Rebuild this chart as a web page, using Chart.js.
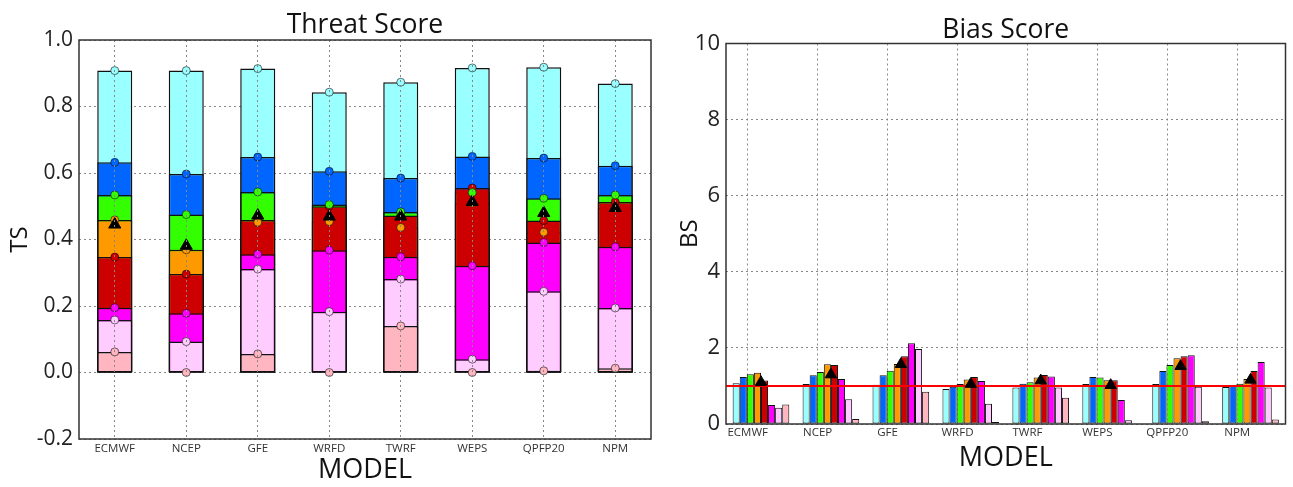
<!DOCTYPE html>
<html>
<head>
<meta charset="utf-8">
<script src="https://cdn.jsdelivr.net/npm/chart.js@4.4.1/dist/chart.umd.min.js"></script>
<style>
    body { margin: 0; background: #fff; }
    .box { position: absolute; top: 0; }
</style>
</head>
<body>
<div class="box" style="left:0"><canvas id="ts" width="660" height="487"></canvas></div>
<div class="box" style="left:660px"><canvas id="bs" width="633" height="487"></canvas></div>
<script>
const MODELS = ['ECMWF', 'NCEP', 'GFE', 'WRFD', 'TWRF', 'WEPS', 'QPFP20', 'NPM']
const THRESHOLDS = ['th1', 'th2', 'th3', 'th4', 'th5', 'th6', 'th7', 'th8']
const COLORS = ['#99ffff', '#0066ff', '#33ff00', '#ff9900', '#cc0000', '#ff00ff', '#ffccff', '#ffb6c1']

// threat score, one array per threshold (models in MODELS order)
const TS_1 = [0.908, 0.908, 0.914, 0.843, 0.873, 0.916, 0.918, 0.869]
const TS_2 = [0.632, 0.597, 0.648, 0.605, 0.585, 0.650, 0.645, 0.622]
const TS_3 = [0.534, 0.475, 0.543, 0.505, 0.483, 0.541, 0.524, 0.534]
const TS_4 = [0.459, 0.369, 0.452, 0.454, 0.436, 0.510, 0.422, 0.495]
const TS_5 = [0.347, 0.296, 0.459, 0.500, 0.472, 0.555, 0.457, 0.513]
const TS_6 = [0.195, 0.178, 0.356, 0.368, 0.348, 0.321, 0.391, 0.378]
const TS_7 = [0.158, 0.093, 0.311, 0.183, 0.281, 0.040, 0.244, 0.194]
const TS_8 = [0.062, 0.000, 0.056, 0.000, 0.140, 0.000, 0.005, 0.013]
const TS_ALL = [0.445, 0.381, 0.472, 0.469, 0.469, 0.513, 0.480, 0.495]
const TS_TICKS = { min: -0.2, max: 1.0, step: 0.2 }

// bias score, one array per threshold
const BS_1 = [1.07, 1.05, 1.03, 0.92, 0.96, 1.05, 1.05, 0.97]
const BS_2 = [1.235, 1.28, 1.28, 0.98, 1.06, 1.235, 1.39, 1.00]
const BS_3 = [1.305, 1.365, 1.40, 1.05, 1.095, 1.22, 1.55, 1.06]
const BS_4 = [1.35, 1.57, 1.576, 1.17, 1.22, 1.15, 1.73, 1.18]
const BS_5 = [1.14, 1.55, 1.78, 1.235, 1.29, 1.15, 1.78, 1.39]
const BS_6 = [0.50, 1.18, 2.12, 1.13, 1.25, 0.63, 1.81, 1.63]
const BS_7 = [0.43, 0.65, 1.97, 0.53, 0.96, 0.10, 0.98, 0.96]
const BS_8 = [0.51, 0.13, 0.85, 0.05, 0.69, 0.00, 0.07, 0.12]
const BS_ALL = [1.10, 1.30, 1.57, 1.05, 1.14, 1.02, 1.52, 1.16]
const BS_TICKS = { min: 0, max: 10, step: 2 }
const BS_REF = 1

const FONT = "'Open Sans', 'DejaVu Sans', sans-serif"
// model ticks on the bias chart sit a bit left of the bar groups
const TICK_SHIFT = 0.19

const frame = {
    id: 'frame',
    afterDraw(chart) {
        const { ctx, chartArea: a } = chart
        ctx.save()
        ctx.strokeStyle = '#333'
        ctx.lineWidth = 1.5
        ctx.strokeRect(a.left, a.top, a.right - a.left, a.bottom - a.top)
        ctx.restore()
    }
}

const refLine = {
    id: 'refLine',
    beforeDatasetDraw(chart, args) {
        if (args.meta.type !== 'line') return
        const { ctx, chartArea: a } = chart
        const y = chart.scales.y.getPixelForValue(BS_REF)
        ctx.save()
        ctx.strokeStyle = '#ff0000'
        ctx.lineWidth = 2
        ctx.beginPath()
        ctx.moveTo(a.left, y)
        ctx.lineTo(a.right, y)
        ctx.stroke()
        ctx.restore()
    }
}

const gridOpts = { color: '#888', lineWidth: 1, drawTicks: false }
const borderOpts = { display: false, dash: [2, 3] }
const titleFont = { family: FONT, size: 26.5, weight: 'normal', lineHeight: 1 }

// ---- Threat Score ----
const tsSeries = [TS_1, TS_2, TS_3, TS_4, TS_5, TS_6, TS_7, TS_8]
const tsBars = tsSeries.map((vals, i) => ({
    type: 'bar',
    label: THRESHOLDS[i],
    data: vals,
    backgroundColor: COLORS[i],
    borderColor: '#111',
    borderWidth: 1.5,
    borderSkipped: false,
    grouped: false,
    barPercentage: 0.49,
    categoryPercentage: 1,
    order: 20 - i,
}))
const tsDots = tsSeries.map((vals, i) => ({
    type: 'line',
    label: THRESHOLDS[i] + ' pt',
    data: vals,
    showLine: false,
    pointRadius: 4,
    pointBackgroundColor: COLORS[i],
    pointBorderColor: 'rgba(0,0,0,0.55)',
    pointBorderWidth: 1,
    order: 5,
}))

new Chart(document.getElementById('ts'), {
    data: {
        labels: MODELS,
        datasets: [
            ...tsBars,
            ...tsDots,
            {
                type: 'line',
                label: 'all',
                data: TS_ALL,
                showLine: false,
                pointStyle: 'triangle',
                pointRadius: 7,
                pointBackgroundColor: '#000',
                pointBorderColor: '#000',
                order: 0,
            }
        ]
    },
    options: {
        responsive: false,
        animation: false,
        layout: { padding: { right: 9 } },
        plugins: {
            legend: { display: false },
            tooltip: { enabled: false },
            title: {
                display: true,
                fullSize: false,
                text: 'Threat Score',
                color: '#111',
                font: titleFont,
                padding: { top: 12, bottom: 1.5 }
            }
        },
        scales: {
            x: {
                type: 'category',
                offset: true,
                grid: { ...gridOpts, offset: false, z: 1 },
                border: borderOpts,
                ticks: { color: '#333', font: { family: FONT, size: 11.5 }, padding: 3 },
                title: { display: true, text: 'MODEL', color: '#111', font: { family: FONT, size: 27 }, padding: 0 },
                afterFit: (s) => { s.height = 48 }
            },
            y: {
                min: TS_TICKS.min,
                max: TS_TICKS.max,
                grid: gridOpts,
                border: borderOpts,
                ticks: {
                    stepSize: TS_TICKS.step,
                    color: '#222',
                    font: { family: FONT, size: 21 },
                    padding: 6,
                    callback: (v) => (Math.round(v * 10) / 10 + 0).toFixed(1)
                },
                title: { display: true, text: 'TS', color: '#111', font: { family: FONT, size: 24 }, padding: { top: 6 } },
                afterFit: (s) => { s.width = 79 }
            }
        }
    },
    plugins: [frame]
})

// ---- Bias Score ----
const bsSeries = [BS_1, BS_2, BS_3, BS_4, BS_5, BS_6, BS_7, BS_8]
const bsBars = bsSeries.map((vals, i) => ({
    type: 'bar',
    label: THRESHOLDS[i],
    data: vals,
    backgroundColor: COLORS[i],
    borderColor: '#111',
    borderWidth: 1,
    borderSkipped: false,
    barPercentage: 1,
    categoryPercentage: 0.81,
    xAxisID: 'x',
    order: 10,
}))

new Chart(document.getElementById('bs'), {
    data: {
        labels: MODELS,
        datasets: [
            ...bsBars,
            {
                type: 'line',
                label: 'all',
                data: BS_ALL,
                xAxisID: 'x',
                showLine: false,
                pointStyle: 'triangle',
                pointRadius: 6.5,
                pointBackgroundColor: '#000',
                pointBorderColor: '#000',
                order: 0,
            }
        ]
    },
    options: {
        responsive: false,
        animation: false,
        layout: { padding: { right: 7, bottom: 12 } },
        plugins: {
            legend: { display: false },
            tooltip: { enabled: false },
            title: {
                display: true,
                fullSize: false,
                text: 'Bias Score',
                color: '#111',
                font: titleFont,
                padding: { top: 17, bottom: 0 }
            }
        },
        scales: {
            x: { type: 'category', offset: true, display: false },
            x2: {
                type: 'linear',
                position: 'bottom',
                min: -0.5 + TICK_SHIFT,
                max: MODELS.length - 0.5 + TICK_SHIFT,
                afterBuildTicks: (s) => { s.ticks = MODELS.map((m, i) => ({ value: i })) },
                grid: gridOpts,
                border: borderOpts,
                ticks: {
                    color: '#333',
                    font: { family: FONT, size: 11.5 },
                    padding: 2,
                    callback: (v) => MODELS[Math.round(v)] ?? ''
                },
                title: { display: true, text: 'MODEL', color: '#111', font: { family: FONT, size: 27 }, padding: 0 },
                afterFit: (s) => { s.height = 51 }
            },
            y: {
                min: BS_TICKS.min,
                max: BS_TICKS.max,
                grid: gridOpts,
                border: borderOpts,
                ticks: {
                    stepSize: BS_TICKS.step,
                    color: '#222',
                    font: { family: FONT, size: 22 },
                    padding: 6
                },
                title: { display: true, text: 'BS', color: '#111', font: { family: FONT, size: 24 }, padding: { top: 16 } },
                afterFit: (s) => { s.width = 66 }
            }
        }
    },
    plugins: [frame, refLine]
})
</script>
</body>
</html>
